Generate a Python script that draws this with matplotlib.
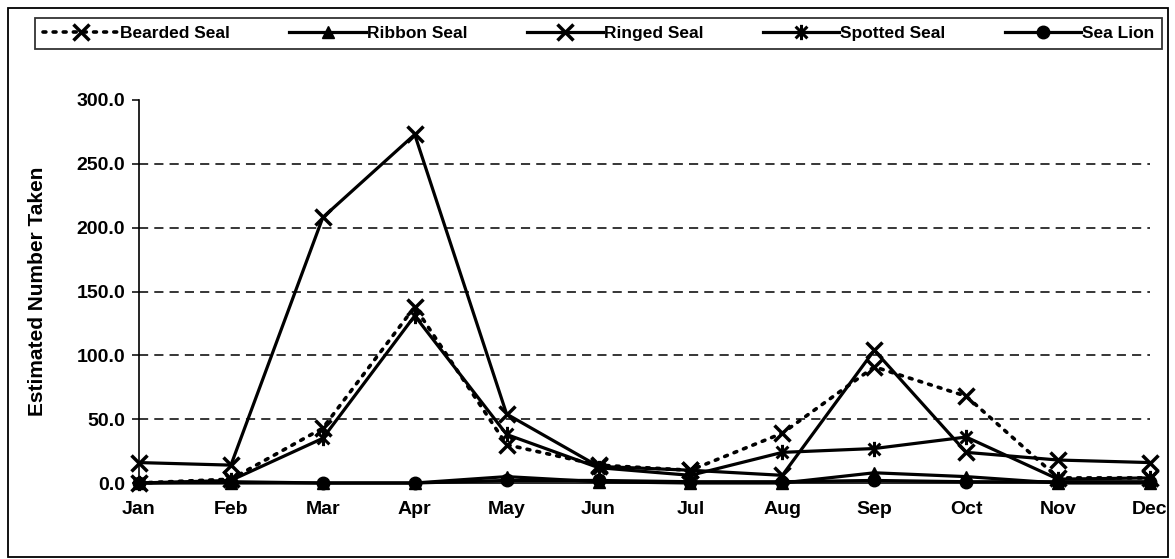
import matplotlib
matplotlib.use("Agg")
import matplotlib.pyplot as plt
from matplotlib.path import Path
from matplotlib.patches import Rectangle
from matplotlib.ticker import FormatStrFormatter, MultipleLocator

months = ["Jan", "Feb", "Mar", "Apr", "May", "Jun", "Jul", "Aug", "Sep", "Oct", "Nov", "Dec"]
bearded = [0, 3, 43, 138, 30, 14, 10, 39, 91, 68, 4, 4]
ribbon = [0, 0, 0, 0, 5, 1, 0, 0, 8, 5, 0, 0]
ringed = [16, 14, 208, 273, 54, 13, 10, 6, 104, 24, 18, 16]
spotted = [0, 2, 35, 131, 38, 12, 6, 24, 27, 36, 3, 4]
sealion = [0, 1, 0, 0, 2, 2, 1, 1, 2, 1, 1, 1]

plt.rcParams['font.family'] = ['Liberation Sans', 'DejaVu Sans']

W, H = 1175, 559
fig = plt.figure(figsize=(W / 100, H / 100), dpi=100)

def fx(px):
    return px / W

def fy(py):
    return 1 - py / H

AX_L, AX_R, AX_T, AX_B = 139, 1150, 100, 483
ax = fig.add_axes([fx(AX_L), fy(AX_B), fx(AX_R) - fx(AX_L), fy(AX_T) - fy(AX_B)])

# asterisk marker: x plus vertical bar
ast = Path([(-1, -1), (1, 1), (-1, 1), (1, -1), (0, -1.3), (0, 1.3)],
           [Path.MOVETO, Path.LINETO, Path.MOVETO, Path.LINETO, Path.MOVETO, Path.LINETO])

x = list(range(len(months)))
lw = 2.3
common = dict(color="black", markeredgecolor="black", markerfacecolor="black", clip_on=False)

ax.plot(x, sealion, "-", marker="o", markersize=9, lw=lw, label="Sea Lion", **common)
ax.plot(x, ribbon, "-", marker="^", markersize=9, lw=lw, label="Ribbon Seal", **common)
ax.plot(x, spotted, "-", marker=ast, markersize=11, markeredgewidth=2.2, lw=lw, label="Spotted Seal", **common)
ax.plot(x, ringed, "-", marker="x", markersize=11, markeredgewidth=2.5, lw=lw, label="Ringed Seal", **common)
ax.plot(x, bearded, linestyle=(0, (0.8, 2.0)), dash_capstyle="round", marker="x", markersize=11,
        markeredgewidth=2.5, lw=2.6, label="Bearded Seal", **common)

ax.set_xlim(0, 11)
ax.set_ylim(0, 300)
ax.yaxis.set_major_locator(MultipleLocator(50))
ax.yaxis.set_major_formatter(FormatStrFormatter("%.1f"))
ax.set_xticks(x)
ax.set_xticklabels(months)

for yv in [50, 100, 150, 200, 250]:
    ax.axhline(yv, color="black", lw=1.1, linestyle=(0, (6, 4)), zorder=0)

for s in ["top", "right"]:
    ax.spines[s].set_visible(False)
ax.spines["left"].set_linewidth(1.2)
ax.spines["bottom"].set_linewidth(1.2)
ax.tick_params(axis="y", direction="out", length=5, width=1.1, labelsize=14, pad=5)
ax.tick_params(axis="x", length=0, labelsize=14, pad=13)
for t in ax.get_xticklabels() + ax.get_yticklabels():
    t.set_fontweight("bold")
ax.set_ylabel("Estimated Number Taken")
ax.yaxis.label.set_fontsize(15)
ax.yaxis.label.set_fontweight("bold")
ax.yaxis.set_label_coords((47 - AX_L) / (AX_R - AX_L), 0.5)

# legend
hmap = {l: h for h, l in zip(*ax.get_legend_handles_labels())}
order = ["Bearded Seal", "Ribbon Seal", "Ringed Seal", "Spotted Seal", "Sea Lion"]
leg = fig.legend([hmap[o] for o in order], order, ncol=5, mode="expand",
                 bbox_to_anchor=(fx(35), fy(50), fx(1162) - fx(35), fy(17) - fy(50)),
                 loc="center", prop={"size": 12.5, "weight": "bold"}, frameon=True, fancybox=False,
                 edgecolor="black", handlelength=4.4, handletextpad=0.05,
                 borderpad=0.45, borderaxespad=0)
leg.get_frame().set_linewidth(1.3)

# outer frame
fig.patches.append(Rectangle((fx(8), fy(557)), fx(1168) - fx(8), fy(8) - fy(557),
                             transform=fig.transFigure, fill=False, edgecolor="black", lw=1.3))

fig.savefig("out.png", dpi=100)
